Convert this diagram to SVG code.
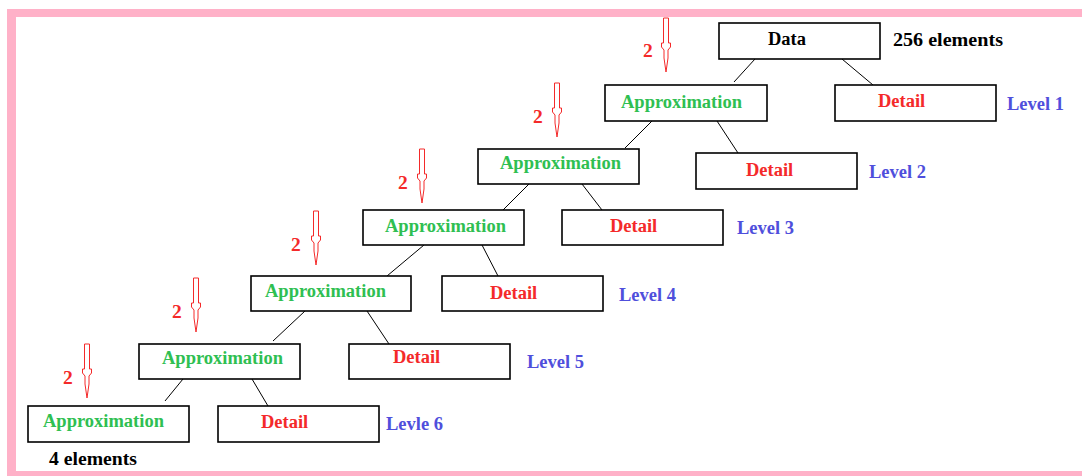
<svg xmlns="http://www.w3.org/2000/svg" width="1082" height="476" viewBox="0 0 1082 476">
<defs>
<style>
.box{fill:#fff;stroke:#000;stroke-width:1.6}
.t{font-family:"Liberation Serif","Times New Roman",serif;font-weight:bold;font-size:18.5px}
.ap{fill:#2fbf52}
.dt{fill:#f42a2a}
.lv{fill:#4f4fdc}
.bk{fill:#000}
.two{fill:#f42a2a;font-size:19.5px}
.conn line{stroke:#000;stroke-width:1}
.arr{fill:#fff;stroke:#f42a2a;stroke-width:1}
</style>
<path id="arrow" d="M-2.5,0 H2.5 V25 H4.5 V29 L2,32 V40 L0,54 L-2,40 V32 L-4.5,29 V25 H-2.5 Z"/>
</defs>
<rect x="0" y="0" width="1082" height="476" fill="#fff"/>
<g id="frame" fill="#ffb1c8">
<rect x="7" y="9" width="1075" height="8"/>
<rect x="7" y="9" width="9" height="467"/>
<rect x="7" y="471" width="1075" height="5"/>
</g>
<g id="connectors" class="conn">
<line x1="755" y1="59" x2="734" y2="82"/>
<line x1="842" y1="59" x2="873" y2="85"/>
<line x1="652" y1="121" x2="625" y2="148"/>
<line x1="717" y1="121" x2="738" y2="153"/>
<line x1="529" y1="184" x2="503" y2="210"/>
<line x1="582" y1="184" x2="602" y2="210"/>
<line x1="424" y1="245" x2="387" y2="276"/>
<line x1="482" y1="245" x2="498" y2="276"/>
<line x1="305" y1="311" x2="273" y2="341"/>
<line x1="367" y1="311" x2="389" y2="344"/>
<line x1="183" y1="379" x2="165" y2="401"/>
<line x1="252" y1="379" x2="268" y2="406"/>
</g>
<g id="data"><rect class="box" x="719" y="23" width="161" height="36"/><text class="t bk" x="768" y="45">Data</text></g>
<text id="n256" class="t bk" x="893" y="46" textLength="110" lengthAdjust="spacingAndGlyphs">256 elements</text>
<g id="approx1"><rect class="box" x="605" y="85" width="162" height="36"/><text class="t ap" x="621" y="108">Approximation</text></g>
<g id="detail1"><rect class="box" x="835" y="85" width="161" height="36"/><text class="t dt" x="878" y="107">Detail</text></g>
<text id="level1" class="t lv" x="1007" y="110">Level 1</text>
<g id="approx2"><rect class="box" x="478" y="149" width="161" height="35"/><text class="t ap" x="500" y="169">Approximation</text></g>
<g id="detail2"><rect class="box" x="696" y="153" width="161" height="36"/><text class="t dt" x="746" y="176">Detail</text></g>
<text id="level2" class="t lv" x="869" y="178">Level 2</text>
<g id="approx3"><rect class="box" x="363" y="210" width="161" height="35"/><text class="t ap" x="385" y="232">Approximation</text></g>
<g id="detail3"><rect class="box" x="562" y="210" width="161" height="35"/><text class="t dt" x="610" y="232">Detail</text></g>
<text id="level3" class="t lv" x="737" y="234">Level 3</text>
<g id="approx4"><rect class="box" x="251" y="276" width="160" height="35"/><text class="t ap" x="265" y="297">Approximation</text></g>
<g id="detail4"><rect class="box" x="442" y="276" width="161" height="35"/><text class="t dt" x="490" y="299">Detail</text></g>
<text id="level4" class="t lv" x="619" y="301">Level 4</text>
<g id="approx5"><rect class="box" x="139" y="344" width="161" height="35"/><text class="t ap" x="162" y="364">Approximation</text></g>
<g id="detail5"><rect class="box" x="349" y="344" width="161" height="35"/><text class="t dt" x="393" y="363">Detail</text></g>
<text id="level5" class="t lv" x="527" y="368">Level 5</text>
<g id="approx6"><rect class="box" x="28" y="406" width="161" height="36"/><text class="t ap" x="43" y="427">Approximation</text></g>
<g id="detail6"><rect class="box" x="218" y="406" width="161" height="36"/><text class="t dt" x="261" y="428">Detail</text></g>
<text id="level6" class="t lv" x="386" y="430">Levle 6</text>
<text id="n4" class="t bk" x="49" y="465" textLength="88" lengthAdjust="spacingAndGlyphs">4 elements</text>
<g id="arrows">
<use href="#arrow" class="arr" x="666" y="18"/><text class="t two" x="643" y="57">2</text>
<use href="#arrow" class="arr" x="557" y="83"/><text class="t two" x="533" y="123">2</text>
<use href="#arrow" class="arr" x="422" y="149"/><text class="t two" x="398" y="189">2</text>
<use href="#arrow" class="arr" x="316" y="211"/><text class="t two" x="291" y="251">2</text>
<use href="#arrow" class="arr" x="196" y="278"/><text class="t two" x="172" y="318">2</text>
<use href="#arrow" class="arr" x="87" y="344"/><text class="t two" x="63" y="384">2</text>
</g>
</svg>
